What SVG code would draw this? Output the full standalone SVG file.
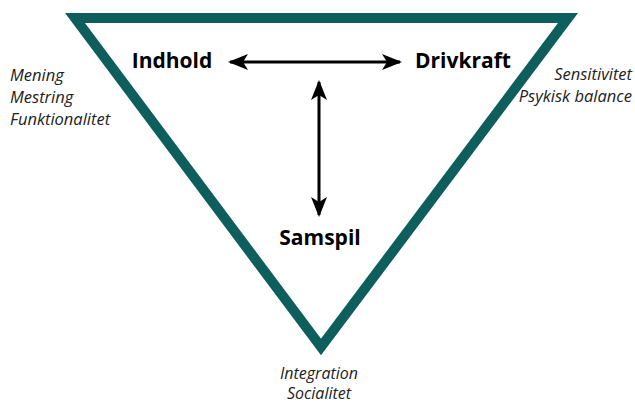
<svg xmlns="http://www.w3.org/2000/svg" width="635" height="403" viewBox="0 0 635 403">
<style>
.tri{fill:none;stroke:#0e5e5e;stroke-width:10;stroke-linejoin:miter;stroke-miterlimit:10}
.node{font-family:"Open Sans","Liberation Sans",sans-serif;font-weight:bold;font-size:21px;fill:#000;text-anchor:middle}
.note{font-family:"Open Sans","Liberation Sans",sans-serif;font-style:italic;font-size:16.5px;fill:#222}
.conn{stroke:#000;stroke-width:3;fill:none}
</style>
<defs>
<marker id="ah" markerUnits="userSpaceOnUse" markerWidth="22" markerHeight="18" viewBox="0 -9 22 18" refX="18" refY="0" orient="auto-start-reverse">
<path d="M0,-8 L20,0 L0,8 L5,0 Z" fill="#000"/>
</marker>
</defs>
<g id="frame"><polygon class="tri" points="75,18 568,18 321,347"/></g>
<g id="connectors">
<line class="conn" x1="230" y1="62" x2="400" y2="62" marker-start="url(#ah)" marker-end="url(#ah)"/>
<line class="conn" x1="319" y1="82" x2="319" y2="215" marker-start="url(#ah)" marker-end="url(#ah)"/>
</g>
<g id="indhold"><text class="node" x="172" y="68">Indhold</text></g>
<g id="drivkraft"><text class="node" x="463" y="68">Drivkraft</text></g>
<g id="samspil"><text class="node" x="320" y="245">Samspil</text></g>
<g id="left-notes">
<text class="note" x="10" y="81">Mening</text>
<text class="note" x="10" y="103">Mestring</text>
<text class="note" x="10" y="125">Funktionalitet</text>
</g>
<g id="right-notes">
<text class="note" x="632" y="80" text-anchor="end">Sensitivitet</text>
<text class="note" x="632" y="102" text-anchor="end">Psykisk balance</text>
</g>
<g id="bottom-notes">
<text class="note" x="319" y="379" text-anchor="middle" style="font-size:16px">Integration</text>
<text class="note" x="319" y="399" text-anchor="middle" style="font-size:16px">Socialitet</text>
</g>
</svg>
